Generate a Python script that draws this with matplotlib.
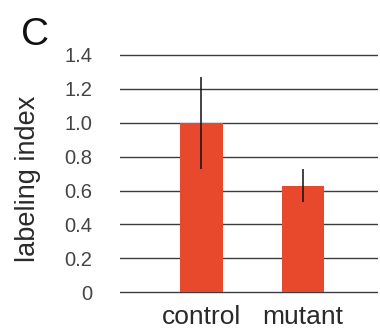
import matplotlib
matplotlib.use('Agg')
import matplotlib.pyplot as plt

plt.rcParams['font.family'] = ['Liberation Sans', 'DejaVu Sans']

# data
groups = ['control', 'mutant']
means = [1.0, 0.63]
errors = [0.27, 0.095]
yticks = [0, 0.2, 0.4, 0.6, 0.8, 1.0, 1.2, 1.4]
ytick_labels = ['0', '0.2', '0.4', '0.6', '0.8', '1.0', '1.2', '1.4']

fig = plt.figure(figsize=(3.8, 3.35), dpi=100)
ax = fig.add_axes([120 / 380, 0.1224, 258 / 380, 0.7185])

x = list(range(len(groups)))
ax.bar(x, means, width=0.42, color='#E8482B', zorder=3)
ax.errorbar(x, means, yerr=errors, fmt='none', ecolor='#111111',
            elinewidth=1.1, capsize=0, zorder=4)

# horizontal rules
for t in yticks:
    ax.axhline(t, color='#3c3c3c', linewidth=1.0, zorder=1)

ax.set_xlim(-0.80, 1.737)
ax.set_ylim(-0.01, 1.41)
ax.set_yticks(yticks)
ax.set_yticklabels(ytick_labels)
ax.set_xticks(x)
ax.set_xticklabels(groups)

ax.tick_params(axis='y', length=0, pad=20, labelsize=14.5, labelcolor='#444444')
ax.tick_params(axis='x', length=0, pad=8, labelsize=19, labelcolor='#2a2a2a')

for s in ax.spines.values():
    s.set_visible(False)

fig.text(28 / 380, 0.467, 'labeling index', rotation=90, ha='center',
         va='center', fontsize=19.5, color='#2a2a2a')
fig.text(35 / 380, 1 - 45 / 335, 'C', ha='center', va='baseline',
         fontsize=28, color='#111111')

fig.savefig('out.png', dpi=100)
